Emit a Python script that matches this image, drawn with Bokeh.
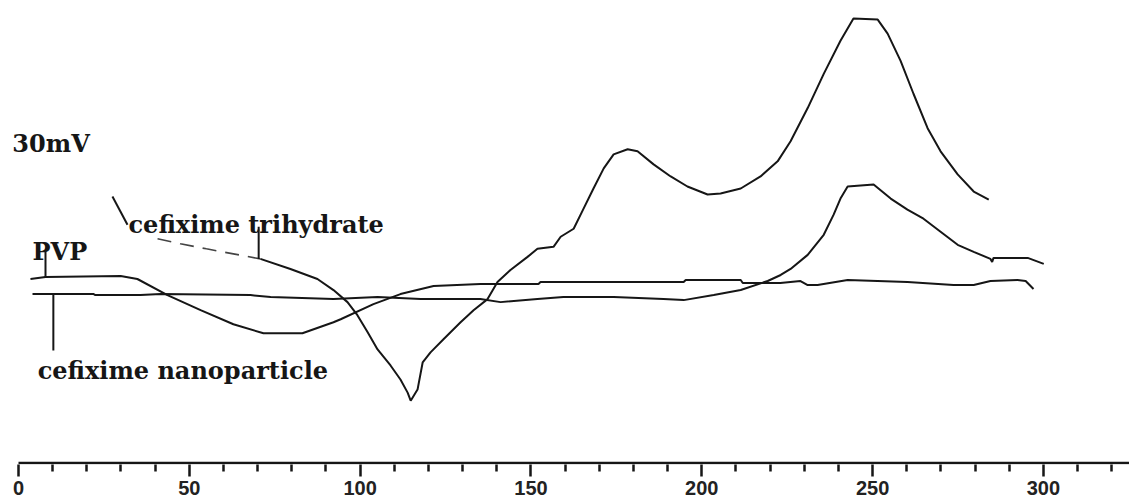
from bokeh.plotting import figure
from bokeh.models import Range1d, FixedTicker, Label
from bokeh.embed import file_html
from bokeh.resources import INLINE

# ---- data (temperature in degC, signal in arbitrary mV units) ----
pvp_temp = [3.5, 7.9, 29.9, 34.8, 43.6, 53.3, 62.9, 71.7, 83.1, 92.2, 94.3, 103.9, 111.8,
            121.5, 135.2, 152.2, 152.8, 194.7, 195.3, 211.4, 212.0, 223.0, 228.9, 231.0,
            233.9, 242.7, 260.2, 273.7, 279.6, 284.5, 292.4, 294.8, 297.1]
pvp_signal = [183, 185, 186, 183, 167, 152, 138, 129, 129, 140, 143, 158, 168,
              176, 178, 178, 180, 180, 182, 182, 179, 179, 181, 177,
              177, 182, 180, 177, 177, 181, 182, 181, 173]

nano_temp = [4.1, 22.0, 22.5, 35.7, 41.6, 67.9, 73.8, 92.2, 105.1, 117.7, 135.2, 141.1,
             151.9, 159.5, 174.2, 188.8, 194.7, 203.5, 211.4, 219.3, 223.1, 226.0, 231.0,
             235.7, 238.6, 240.6, 242.7, 250.3, 255.3, 260.2, 264.9, 269.9, 274.9, 279.6,
             284.5, 285.0, 285.4, 295.4, 300.1]
nano_signal = [168, 168, 167, 167, 168, 167, 165, 163, 165, 163, 163, 160,
               163, 165, 165, 163, 162, 167, 172, 181, 187, 193, 207,
               227, 247, 263, 275, 277, 263, 252, 243, 230, 217, 210,
               203, 200, 204, 204, 198]

tri_start_temp = [27.5, 31.9]
tri_start_signal = [265, 237]
tri_faint_temp = [40.7, 47.4, 55.0, 62.9, 70.8]
tri_faint_signal = [223, 218, 213, 208, 203]
tri_temp = [70.8, 79.6, 87.5, 92.2, 96.3, 99.2, 102.2, 105.1, 108.9, 111.8, 113.9, 114.8,
            116.8, 118.3, 120.6, 124.4, 129.4, 133.2, 137.3, 140.2, 144.0, 149.0, 151.9,
            156.6, 158.7, 162.5, 165.4, 168.3, 171.3, 174.2, 178.3, 181.2, 185.9, 190.9,
            195.8, 201.7, 205.5, 211.4, 217.2, 222.2, 226.0, 231.0, 235.7, 240.6, 244.4,
            251.5, 254.4, 258.2, 262.0, 266.1, 269.9, 274.9, 279.6, 284.0]
tri_signal = [203, 193, 183, 172, 160, 147, 130, 113, 97, 83, 70, 62,
              73, 100, 110, 123, 140, 152, 163, 180, 192, 205, 213,
              215, 225, 233, 253, 273, 293, 307, 312, 310, 297, 285,
              275, 267, 268, 273, 285, 300, 320, 353, 387, 420, 442,
              441, 427, 400, 367, 333, 310, 287, 270, 262]

label_texts = ["30mV", "cefixime trihydrate", "PVP", "cefixime nanoparticle"]
label_temp = [-1.8, 32.2, 4.1, 5.6]
label_signal = [318, 237, 210, 92]

leader_temp = [70.3, 7.9, 10.2]
leader_top = [235, 210, 168]
leader_bottom = [203, 185, 112]

axis_start, axis_end = 0, 330
major_ticks = [0, 50, 100, 150, 200, 250, 300]
minor_ticks = [t for t in range(0, 330, 10) if t % 50 != 0]
tick_labels = {0: "0", 50: "50", 100: "100", 150: "150", 200: "200", 250: "250", 300: "300"}

INK = "#161616"

p = figure(width=1129, height=497, output_backend="svg", toolbar_location=None,
           x_range=Range1d(-5.27, 325.2), y_range=Range1d(-1.5, 460),
           y_axis_location=None, min_border_left=0, min_border_right=0,
           min_border_top=0, min_border_bottom=0)
p.outline_line_color = None
p.grid.visible = False
p.background_fill_color = "white"
p.border_fill_color = "white"

ax = p.xaxis[0]
ax.ticker = FixedTicker(ticks=major_ticks, minor_ticks=minor_ticks)
ax.major_label_overrides = tick_labels
ax.axis_line_color = None
ax.major_tick_line_color = INK
ax.major_tick_line_width = 2.5
ax.major_tick_in = 0
ax.major_tick_out = 12
ax.minor_tick_line_color = INK
ax.minor_tick_line_width = 2.5
ax.minor_tick_in = 0
ax.minor_tick_out = 7
ax.major_label_standoff = 4
ax.major_label_text_font = "Liberation Sans"
ax.major_label_text_font_style = "bold"
ax.major_label_text_font_size = "20px"
ax.major_label_text_color = "#222222"

# axis line starting at 0 like the instrument printout
p.line([axis_start, axis_end], [0, 0], line_color=INK, line_width=2.5)

p.line(pvp_temp, pvp_signal, line_color=INK, line_width=2)
p.line(nano_temp, nano_signal, line_color=INK, line_width=2)
p.line(tri_temp, tri_signal, line_color=INK, line_width=2)
p.line(tri_start_temp, tri_start_signal, line_color=INK, line_width=2)
p.line(tri_faint_temp, tri_faint_signal, line_color="#444444", line_width=1.6, line_dash="14 9")

p.segment(x0=leader_temp, y0=leader_top, x1=leader_temp, y1=leader_bottom,
          line_color=INK, line_width=2)

for txt, t, s in zip(label_texts, label_temp, label_signal):
    p.add_layout(Label(x=t, y=s, text=txt, text_font="DejaVu Serif", text_font_style="bold",
                       text_font_size="24px", text_color=INK, text_baseline="alphabetic",
                       text_align="left"))

open("out.html", "w").write(file_html(p, INLINE))
